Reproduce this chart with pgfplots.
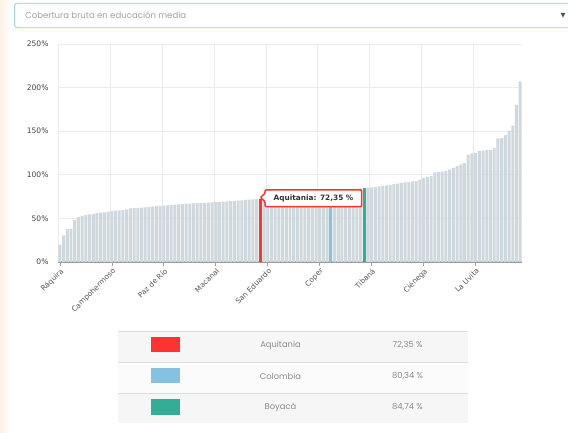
\documentclass[border=0pt]{standalone}
\usepackage{fontspec}
\setmainfont{DejaVu Sans}
\newfontfamily\dvs{DejaVu Sans}
\newfontfamily\pop{Poppins}
\usepackage{pgfplots}
\usepackage{pgfplotstable}
\pgfplotsset{compat=1.18}

\definecolor{barg}{HTML}{CFD8DC}
\definecolor{aqred}{HTML}{FF3333}
\definecolor{colblue}{HTML}{85C1E0}
\definecolor{boyteal}{HTML}{33AE96}
\definecolor{axisg}{HTML}{9E9E9E}
\definecolor{gridg}{HTML}{EBEBEB}
\definecolor{tickg}{HTML}{A0A0A0}
\definecolor{labg}{HTML}{555555}
\definecolor{ylabg}{HTML}{444444}
\definecolor{ddblue}{HTML}{9DC8EA}
\definecolor{ddtext}{HTML}{A0A0A0}
\definecolor{rowg}{HTML}{F6F6F6}
\definecolor{rowl}{HTML}{FBFBFB}
\definecolor{linel}{HTML}{DDDDDD}
\definecolor{tabtext}{HTML}{8A8A8A}
\definecolor{tiptext}{HTML}{333333}
\definecolor{beige}{HTML}{FCF1E4}

% coverage per municipality, sorted
\pgfplotstableread{
idx val
0 19.5
1 30.5
2 37.8
3 38.0
4 48.2
5 51.8
6 53.0
7 53.8
8 54.5
9 55.0
10 56.0
11 56.6
12 57.0
13 57.8
14 58.3
15 58.8
16 59.1
17 59.6
18 60.4
19 61.4
20 61.8
21 62.0
22 62.3
23 62.6
24 63.3
25 63.6
26 64.0
27 64.4
28 64.7
29 65.0
30 65.3
31 65.8
32 66.1
33 66.5
34 66.8
35 67.0
36 67.2
37 67.4
38 67.6
39 67.8
40 68.1
41 68.4
42 68.7
43 69.0
44 69.3
45 69.6
46 69.9
47 70.2
48 70.5
49 70.8
50 71.1
51 71.4
52 71.7
53 72.0
54 72.35
55 72.7
56 73.1
57 73.5
58 73.9
59 74.3
60 74.7
61 75.1
62 75.5
63 75.9
64 76.3
65 76.7
66 77.1
67 77.5
68 77.9
69 78.3
70 78.8
71 79.3
72 79.8
73 80.34
74 80.9
75 81.4
76 81.9
77 82.4
78 82.9
79 83.4
80 83.9
81 84.4
82 84.74
83 85.3
84 85.6
85 86.0
86 86.7
87 87.4
88 88.0
89 88.5
90 89.2
91 90.0
92 90.6
93 91.2
94 91.7
95 92.4
96 92.6
97 94.5
98 96.5
99 97.6
100 98.5
101 102.8
102 103.0
103 103.5
104 104.6
105 106.0
106 108.0
107 109.8
108 112.0
109 113.5
110 122.7
111 124.6
112 124.8
113 127.3
114 127.7
115 128.4
116 128.6
117 131.0
118 141.8
119 142.0
120 145.6
121 150.6
122 156.4
123 180.0
124 206.8
}\munis

\begin{document}
\begin{tikzpicture}[x=1bp,y=1bp]
\useasboundingbox (0,0) rectangle (568,433);
\fill[white] (0,0) rectangle (568,433);
\shade[left color=beige, right color=white] (0,0) rectangle (11,433);

% dropdown
\draw[ddblue, line width=0.8bp, rounded corners=3bp, fill=white] (14.5,405.3) rectangle (580,429.7);
\node[anchor=west, inner sep=0pt, font=\pop\fontsize{8.6}{10}\selectfont, text=ddtext] at (25,417.5) {Cobertura bruta en educación media};
\node[inner sep=0pt, font=\dvs\fontsize{6.5}{8}\selectfont, text=labg] at (563,417.5) {▼};

\begin{axis}[
  at={(58bp,171bp)}, anchor=south west,
  scale only axis, width=464bp, height=218bp,
  xmin=-0.5, xmax=124.5, ymin=0, ymax=250,
  axis x line*=bottom, axis y line*=left,
  x axis line style={draw=axisg, line width=1.3bp},
  y axis line style={draw=none},
  ytick={0,50,100,150,200,250},
  yticklabels={0\%,50\%,100\%,150\%,200\%,250\%},
  yticklabel style={font=\dvs\fontsize{7.6}{9}\selectfont, text=ylabg, xshift=-2bp},
  ymajorgrids, grid style={draw=gridg, line width=0.7bp},
  ytick style={draw=none},
  xtick={0,14,28,42,56,70,84,98,112},
  xticklabels={Ráquira,Campohermoso,Paz de Río,Macanal,San Eduardo,Coper,Tibaná,Ciénega,La Uvita},
  xticklabel style={font=\dvs\fontsize{7.4}{9}\selectfont, text=labg, rotate=45, anchor=north east, inner sep=1bp},
  tick align=outside, major tick length=4bp,
  xtick style={draw=tickg, line width=0.6bp},
  extra x ticks={-0.5,13.5,27.5,41.5,55.5,69.5,83.5,97.5,111.5},
  extra x tick labels={},
  extra x tick style={xmajorgrids=true, major tick length=0pt},
  clip=false,
]
\addplot[ybar, bar width=0.8, bar shift=0pt, fill=barg, draw=none] table[x=idx, y=val]{\munis};
\addplot[ybar, bar width=0.8, bar shift=0pt, fill=aqred, draw=none] coordinates {(54,72.35)};
\addplot[ybar, bar width=0.8, bar shift=0pt, fill=colblue, draw=none] coordinates {(73,80.34)};
\addplot[ybar, bar width=0.8, bar shift=0pt, fill=boyteal, draw=none] coordinates {(82,84.74)};
\end{axis}

% tooltip
\draw[aqred, line width=1.5bp, fill=white, rounded corners=1bp]
  (265,243) -- (361.5,243) -- (361.5,226.3) -- (265,226.3) -- (265,231.3)
  -- (260.5,235.5) -- (265,239.7) -- cycle;
\node[inner sep=0pt, font=\dvs\bfseries\fontsize{7.4}{9}\selectfont, text=tiptext] at (313.5,234.6) {Aquitania: 72,35 \%};

% summary table
\fill[rowg] (118,71) rectangle (468,102);
\fill[rowl] (118,40) rectangle (468,71);
\fill[rowg] (118,9.5) rectangle (468,40);
\draw[linel, line width=0.7bp] (118,102) -- (468,102);
\draw[linel, line width=0.7bp] (118,71) -- (468,71);
\draw[linel, line width=0.7bp] (118,40) -- (468,40);
\fill[aqred] (151,80.7) rectangle (180,95.7);
\fill[colblue] (151,49.7) rectangle (180,64.7);
\fill[boyteal] (151,18.3) rectangle (180,33.7);
\begin{scope}[every node/.style={inner sep=0pt, font=\pop\fontsize{8.4}{10}\selectfont, text=tabtext}]
\node at (280.5,88) {Aquitania};
\node at (280.5,57) {Colombia};
\node at (280.5,26) {Boyacá};
\node at (407.5,88) {72,35 \%};
\node at (407.5,57) {80,34 \%};
\node at (407.5,26) {84,74 \%};
\end{scope}
\end{tikzpicture}
\end{document}
